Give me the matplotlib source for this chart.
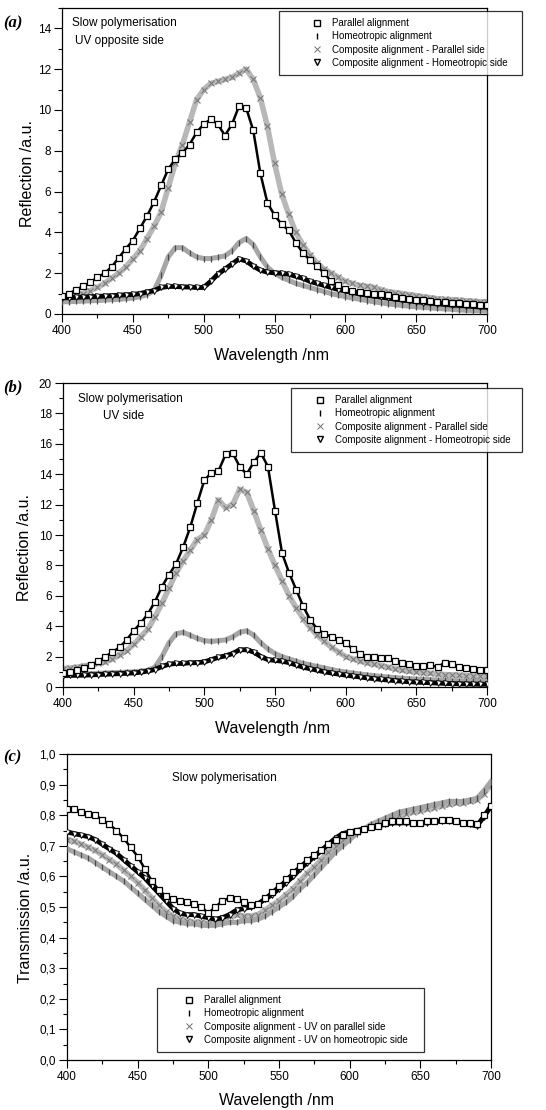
import numpy as np
import matplotlib.pyplot as plt
from matplotlib.lines import Line2D
from matplotlib.ticker import MultipleLocator, FixedLocator, FixedFormatter

plt.rcParams['font.family'] = ['Liberation Sans', 'DejaVu Sans']

# Figure size in pixels (dpi 100)
W, H = 546, 1110

# Wavelength grid in nm (values read every 5 nm)
wavelength = np.arange(400, 701, 5)

# (a) Reflection, slow polymerisation, UV opposite side
refl_a_parallel = [0.87, 1.0, 1.2, 1.36, 1.55, 1.8, 2.0, 2.3, 2.75, 3.2,
                   3.6, 4.2, 4.8, 5.5, 6.3, 7.1, 7.6, 7.9, 8.3, 8.9,
                   9.3, 9.55, 9.3, 8.75, 9.3, 10.2, 10.1, 9.0, 6.9, 5.45,
                   4.85, 4.4, 4.1, 3.5, 3.0, 2.65, 2.35, 2.0, 1.6, 1.4,
                   1.25, 1.15, 1.1, 1.05, 1.0, 1.0, 0.95, 0.85, 0.8, 0.75,
                   0.7, 0.68, 0.65, 0.6, 0.58, 0.55, 0.52, 0.5, 0.48, 0.46,
                   0.45]
refl_a_homeo = [0.6, 0.6, 0.62, 0.63, 0.65, 0.66, 0.68, 0.7, 0.72, 0.75,
                0.78, 0.85, 0.95, 1.15, 1.9, 2.8, 3.25, 3.25, 3.0, 2.8,
                2.72, 2.72, 2.78, 2.85, 3.1, 3.5, 3.7, 3.4, 2.8, 2.3,
                2.0, 1.8, 1.65, 1.5, 1.4, 1.3, 1.2, 1.1, 1.0, 0.92,
                0.85, 0.78, 0.72, 0.66, 0.6, 0.55, 0.5, 0.46, 0.42, 0.38,
                0.35, 0.32, 0.3, 0.27, 0.25, 0.23, 0.2, 0.18, 0.17, 0.15,
                0.14]
refl_a_comp_par = [0.75, 0.8, 0.9, 1.0, 1.15, 1.3, 1.5, 1.75, 2.0, 2.3,
                   2.7, 3.1, 3.7, 4.3, 5.0, 6.2, 7.4, 8.3, 9.4, 10.5,
                   11.0, 11.3, 11.4, 11.5, 11.6, 11.8, 12.0, 11.5, 10.6, 9.2,
                   7.4, 5.9, 4.9, 4.0, 3.4, 2.9, 2.5, 2.2, 2.0, 1.8,
                   1.6, 1.5, 1.4, 1.35, 1.3, 1.2, 1.1, 1.05, 1.0, 0.95,
                   0.9, 0.85, 0.8, 0.75, 0.72, 0.7, 0.68, 0.65, 0.63, 0.6,
                   0.6]
refl_a_comp_homeo = [0.8, 0.8, 0.82, 0.83, 0.85, 0.86, 0.88, 0.9, 0.92, 0.94,
                     0.96, 1.0, 1.08, 1.15, 1.3, 1.35, 1.35, 1.33, 1.32, 1.3,
                     1.3, 1.6, 1.95, 2.2, 2.45, 2.7, 2.6, 2.35, 2.15, 2.05,
                     2.02, 2.0, 1.95, 1.85, 1.75, 1.6, 1.5, 1.4, 1.3, 1.2,
                     1.12, 1.05, 0.98, 0.92, 0.87, 0.82, 0.77, 0.72, 0.68, 0.64,
                     0.6, 0.56, 0.53, 0.5, 0.47, 0.44, 0.42, 0.4, 0.37, 0.35,
                     0.33]

# (b) Reflection, slow polymerisation, UV side
refl_b_parallel = [0.9, 1.0, 1.1, 1.25, 1.45, 1.7, 2.0, 2.3, 2.6, 3.1,
                   3.7, 4.2, 4.8, 5.6, 6.6, 7.4, 8.1, 9.2, 10.5, 12.1,
                   13.6, 14.1, 14.2, 15.3, 15.4, 14.5, 14.0, 14.8, 15.4, 14.5,
                   11.6, 8.8, 7.5, 6.4, 5.3, 4.4, 3.8, 3.5, 3.3, 3.1,
                   2.9, 2.5, 2.2, 2.0, 1.95, 1.9, 1.9, 1.7, 1.6, 1.5,
                   1.4, 1.35, 1.45, 1.3, 1.6, 1.5, 1.3, 1.25, 1.2, 1.1,
                   1.15]
refl_b_homeo = [0.85, 0.85, 0.86, 0.87, 0.88, 0.9, 0.92, 0.94, 0.96, 0.98,
                1.0, 1.05, 1.1, 1.3, 2.0, 2.9, 3.5, 3.6, 3.4, 3.2,
                3.05, 3.0, 3.05, 3.1, 3.3, 3.6, 3.7, 3.4, 2.9, 2.5,
                2.2, 2.0, 1.85, 1.7, 1.55, 1.45, 1.35, 1.25, 1.15, 1.05,
                0.98, 0.92, 0.86, 0.8, 0.75, 0.7, 0.66, 0.62, 0.58, 0.55,
                0.52, 0.5, 0.48, 0.45, 0.43, 0.41, 0.4, 0.38, 0.37, 0.36,
                0.35]
refl_b_comp_par = [1.2, 1.25, 1.3, 1.4, 1.45, 1.55, 1.65, 1.85, 2.1, 2.4,
                   2.8, 3.3, 3.8, 4.6, 5.5, 6.5, 7.5, 8.3, 9.0, 9.7,
                   10.0, 11.0, 12.3, 11.8, 12.0, 13.0, 12.8, 11.6, 10.3, 9.1,
                   8.0, 7.0, 6.0, 5.2, 4.5, 3.9, 3.4, 3.0, 2.6, 2.3,
                   2.0, 1.85, 1.7, 1.6, 1.5, 1.4, 1.3, 1.2, 1.1, 1.05,
                   1.0, 0.95, 0.9, 0.85, 0.82, 0.8, 0.78, 0.75, 0.72, 0.7,
                   0.7]
refl_b_comp_homeo = [0.75, 0.76, 0.77, 0.78, 0.8, 0.82, 0.84, 0.86, 0.88, 0.9,
                     0.93, 0.97, 1.05, 1.15, 1.35, 1.5, 1.55, 1.55, 1.6, 1.6,
                     1.65, 1.8, 1.95, 2.05, 2.2, 2.45, 2.45, 2.3, 2.0, 1.8,
                     1.75, 1.7, 1.6, 1.45, 1.3, 1.2, 1.1, 1.0, 0.92, 0.85,
                     0.78, 0.72, 0.66, 0.6, 0.55, 0.5, 0.46, 0.42, 0.38, 0.35,
                     0.32, 0.3, 0.28, 0.26, 0.24, 0.22, 0.21, 0.2, 0.19, 0.18,
                     0.18]

# (c) Transmission, slow polymerisation
trans_c_parallel = [0.82, 0.82, 0.81, 0.805, 0.8, 0.785, 0.77, 0.75, 0.725, 0.695,
                    0.665, 0.625, 0.585, 0.555, 0.535, 0.525, 0.52, 0.515, 0.51, 0.5,
                    0.48, 0.5, 0.52, 0.53, 0.525, 0.515, 0.505, 0.51, 0.53, 0.55,
                    0.57, 0.59, 0.615, 0.635, 0.655, 0.67, 0.685, 0.705, 0.72, 0.735,
                    0.745, 0.75, 0.755, 0.76, 0.765, 0.775, 0.78, 0.78, 0.78, 0.775,
                    0.775, 0.78, 0.78, 0.785, 0.785, 0.78, 0.775, 0.775, 0.77, 0.8,
                    0.83]
trans_c_homeo = [0.69, 0.68, 0.67, 0.66, 0.645, 0.63, 0.615, 0.6, 0.585, 0.565,
                 0.545, 0.525, 0.505, 0.485, 0.47, 0.455, 0.45, 0.445, 0.445, 0.44,
                 0.44, 0.44, 0.445, 0.45, 0.45, 0.455, 0.455, 0.46, 0.47, 0.485,
                 0.5, 0.515, 0.535, 0.56, 0.58, 0.605, 0.63, 0.655, 0.68, 0.7,
                 0.72, 0.74, 0.755, 0.77, 0.78, 0.79, 0.8, 0.81, 0.815, 0.82,
                 0.825, 0.83, 0.835, 0.84, 0.845, 0.845, 0.845, 0.85, 0.855, 0.88,
                 0.91]
trans_c_comp_par = [0.72, 0.715, 0.705, 0.695, 0.685, 0.67, 0.655, 0.64, 0.62, 0.6,
                    0.58, 0.555, 0.53, 0.505, 0.485, 0.47, 0.46, 0.455, 0.45, 0.45,
                    0.445, 0.45, 0.46, 0.47, 0.475, 0.47, 0.47, 0.475, 0.49, 0.505,
                    0.52, 0.54, 0.56, 0.585, 0.61, 0.63, 0.655, 0.68, 0.7, 0.72,
                    0.735, 0.745, 0.755, 0.765, 0.775, 0.785, 0.79, 0.8, 0.805, 0.81,
                    0.815, 0.82, 0.825, 0.83, 0.835, 0.84, 0.84, 0.845, 0.85, 0.87,
                    0.9]
trans_c_comp_homeo = [0.745, 0.74, 0.735, 0.73, 0.72, 0.705, 0.69, 0.675, 0.655, 0.635,
                      0.615, 0.595, 0.57, 0.545, 0.52, 0.495, 0.48, 0.475, 0.475, 0.47,
                      0.465, 0.46, 0.465, 0.475, 0.49, 0.495, 0.5, 0.51, 0.525, 0.54,
                      0.56, 0.58, 0.6, 0.625, 0.645, 0.665, 0.685, 0.705, 0.725, 0.74,
                      0.745, 0.75, 0.755, 0.76, 0.765, 0.77, 0.775, 0.775, 0.775, 0.775,
                      0.775, 0.775, 0.78, 0.78, 0.78, 0.78, 0.775, 0.77, 0.765, 0.795,
                      0.83]

labels_ab = ['Parallel alignment', 'Homeotropic alignment',
             'Composite alignment - Parallel side',
             'Composite alignment - Homeotropic side']
labels_c = ['Parallel alignment', 'Homeotropic alignment',
            'Composite alignment - UV on parallel side',
            'Composite alignment - UV on homeotropic side']

xticks = [400, 450, 500, 550, 600, 650, 700]
yticks_c = [0.0, 0.1, 0.2, 0.3, 0.4, 0.5, 0.6, 0.7, 0.8, 0.9, 1.0]
yticklabels_c = ['0,0', '0,1', '0,2', '0,3', '0,4', '0,5',
                 '0,6', '0,7', '0,8', '0,9', '1,0']


def px_rect(x0, y0, x1, y1):
    # pixel box (top-left origin) -> figure fraction rect
    return [x0 / W, 1 - y1 / H, (x1 - x0) / W, (y1 - y0) / H]


def draw_curves(ax, par, homeo, comp_par, comp_homeo):
    # grey bands first, then the black ones on top
    ax.plot(wavelength, comp_par, color='#b8b8b8', lw=4.0, zorder=2)
    ax.plot(wavelength, comp_par, ls='none', marker='x', ms=4, mew=0.8,
            color='#7a7a7a', zorder=2)
    ax.plot(wavelength, homeo, color='#a6a6a6', lw=3.6, zorder=3)
    ax.plot(wavelength, homeo, ls='none', marker='|', ms=4.5, mew=0.9,
            color='#4a4a4a', zorder=3)
    ax.plot(wavelength, comp_homeo, color='black', lw=3.5, zorder=4)
    ax.plot(wavelength, comp_homeo, ls='none', marker='v', ms=3.6, mew=0.6,
            mfc='white', mec='black', zorder=4)
    ax.plot(wavelength, par, color='black', lw=1.8, zorder=5)
    ax.plot(wavelength, par, ls='none', marker='s', ms=4.3, mew=0.9,
            mfc='white', mec='black', zorder=5)


def style_axes(ax, ymax, ymajor, yminor):
    ax.set_xlim(400, 700)
    ax.set_ylim(0, ymax)
    ax.xaxis.set_major_locator(FixedLocator(xticks))
    ax.xaxis.set_minor_locator(MultipleLocator(25))
    ax.yaxis.set_major_locator(MultipleLocator(ymajor))
    ax.yaxis.set_minor_locator(MultipleLocator(yminor))
    ax.tick_params(which='major', direction='out', length=6, width=0.8,
                   labelsize=8.5, pad=2)
    ax.tick_params(which='minor', direction='out', length=3, width=0.8)
    for s in ax.spines.values():
        s.set_linewidth(0.9)


def add_legend(labels, x0, y0, x1, y1, marker_off, text_off):
    handles = [
        Line2D([], [], ls='none', marker='s', ms=4.5, mew=1.0, mfc='white', mec='black'),
        Line2D([], [], ls='none', marker='|', ms=5, mew=1.0, color='black'),
        Line2D([], [], ls='none', marker='x', ms=4.5, mew=0.7, color='#707070'),
        Line2D([], [], ls='none', marker='v', ms=5, mew=1.0, mfc='white', mec='black'),
    ]
    fs = 7
    fs_px = fs * 100 / 72
    bp = 0.75
    hl = 2 * (marker_off - bp * fs_px) / fs_px
    htp = (text_off - bp * fs_px - hl * fs_px) / fs_px
    leg = fig.legend(handles, labels, loc='upper left',
                     bbox_to_anchor=px_rect(x0, y0, x1, y1), mode='expand',
                     fontsize=fs, frameon=True, fancybox=False, borderpad=bp,
                     handlelength=hl, handletextpad=htp, labelspacing=0.32,
                     borderaxespad=0)
    leg.get_frame().set_edgecolor('black')
    leg.get_frame().set_linewidth(0.9)
    return leg


fig = plt.figure(figsize=(W / 100, H / 100), dpi=100)

ax_a = fig.add_axes(px_rect(62, 8, 487, 314))
ax_b = fig.add_axes(px_rect(63, 383, 487, 687))
ax_c = fig.add_axes(px_rect(67, 754, 491, 1060))

draw_curves(ax_a, refl_a_parallel, refl_a_homeo, refl_a_comp_par, refl_a_comp_homeo)
draw_curves(ax_b, refl_b_parallel, refl_b_homeo, refl_b_comp_par, refl_b_comp_homeo)
draw_curves(ax_c, trans_c_parallel, trans_c_homeo, trans_c_comp_par, trans_c_comp_homeo)

style_axes(ax_a, 15, 2, 1)
style_axes(ax_b, 20, 2, 1)
style_axes(ax_c, 1.0, 0.1, 0.05)
ax_c.yaxis.set_major_locator(FixedLocator(yticks_c))
ax_c.yaxis.set_major_formatter(FixedFormatter(yticklabels_c))

for ax, ylab, ylx, yly, xly in [(ax_a, 'Reflection /a.u.', -0.08, 0.46, -0.134),
                                (ax_b, 'Reflection /a.u.', -0.09, 0.46, -0.135),
                                (ax_c, 'Transmission /a.u.', -0.099, 0.464, -0.131)]:
    ax.set_xlabel('Wavelength /nm', fontsize=11.5, va='center')
    ax.xaxis.set_label_coords(0.494, xly)
    ax.set_ylabel(ylab, fontsize=11.5, va='center')
    ax.yaxis.set_label_coords(ylx, yly)

# panel letters
for letter, ypx in [('(a)', 23), ('(b)', 387), ('(c)', 757)]:
    fig.text(3 / W, 1 - ypx / H, letter, fontsize=12, fontweight='bold',
             fontstyle='italic', family=['Liberation Serif', 'DejaVu Serif'],
             va='center', ha='left')

# annotations
fig.text(72 / W, 1 - 23 / H, 'Slow polymerisation', fontsize=8.5, va='center')
fig.text(75 / W, 1 - 41 / H, 'UV opposite side', fontsize=8.5, va='center')
fig.text(78 / W, 1 - 399 / H, 'Slow polymerisation', fontsize=8.5, va='center')
fig.text(103 / W, 1 - 416 / H, 'UV side', fontsize=8.5, va='center')
fig.text(172 / W, 1 - 778 / H, 'Slow polymerisation', fontsize=8.5, va='center')

add_legend(labels_ab, 279, 11, 522, 79, 38, 53)
add_legend(labels_ab, 291, 388, 522, 447, 29, 44)
add_legend(labels_c, 157, 988, 424, 1048, 32, 47)

fig.savefig('out.png', dpi=100)
